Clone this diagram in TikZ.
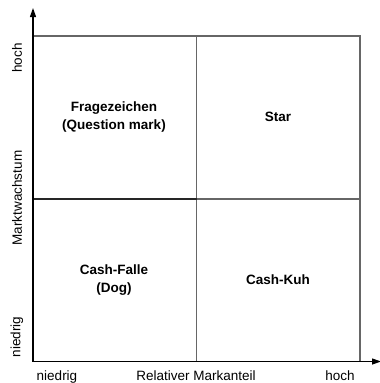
\documentclass[tikz,border=0pt]{standalone}
\usepackage{fontspec}
\setmainfont{Liberation Sans}
\usetikzlibrary{arrows.meta}
\begin{document}
\begin{tikzpicture}[x=1pt,y=-1pt,
  txt/.style={font=\fontsize{13.5}{15.5}\selectfont, inner sep=0pt, align=center},
  quad/.style={txt, font=\fontsize{13.5}{18}\selectfont\bfseries},
  grid/.style={draw=black!60, line width=1.8pt},
  axis/.style={draw=black, line width=1.2pt, -{Triangle[width=6pt,length=9pt]}}]
\useasboundingbox (0,0) rectangle (380,383);
% box
\draw[grid] (33,36) rectangle (360,361.5);
\draw[grid] (196.5,36) -- (196.5,361.5);
\draw[draw=black!85, line width=1.8pt] (33,199) -- (196.5,199);
\draw[grid] (196.5,199) -- (360,199);
% axes
\coordinate (o) at (33,361.5);
\coordinate (xe) at (381,361.5);
\coordinate (ye) at (33,8);
\draw[axis] (o) -- (xe);
\draw[axis] (o) -- (ye);
% axis labels
\node[txt, rotate=90] (yh) at (17,58) {hoch};
\node[txt, rotate=90] (ym) at (17,198) {Marktwachstum};
\node[txt, rotate=90] (yn) at (17,337) {niedrig};
\node[txt, anchor=base] (xn) at (57,380) {niedrig};
\node[txt, anchor=base] (xm) at (196,380) {Relativer Markanteil};
\node[txt, anchor=base] (xh) at (340,380) {hoch};
% quadrant labels
\node[quad] (q1) at (114,117) {Fragezeichen\\(Question mark)};
\node[quad] (q2) at (278,117) {Star};
\node[quad] (q3) at (114,280) {Cash-Falle\\(Dog)};
\node[quad] (q4) at (278,280) {Cash-Kuh};
\end{tikzpicture}
\end{document}
